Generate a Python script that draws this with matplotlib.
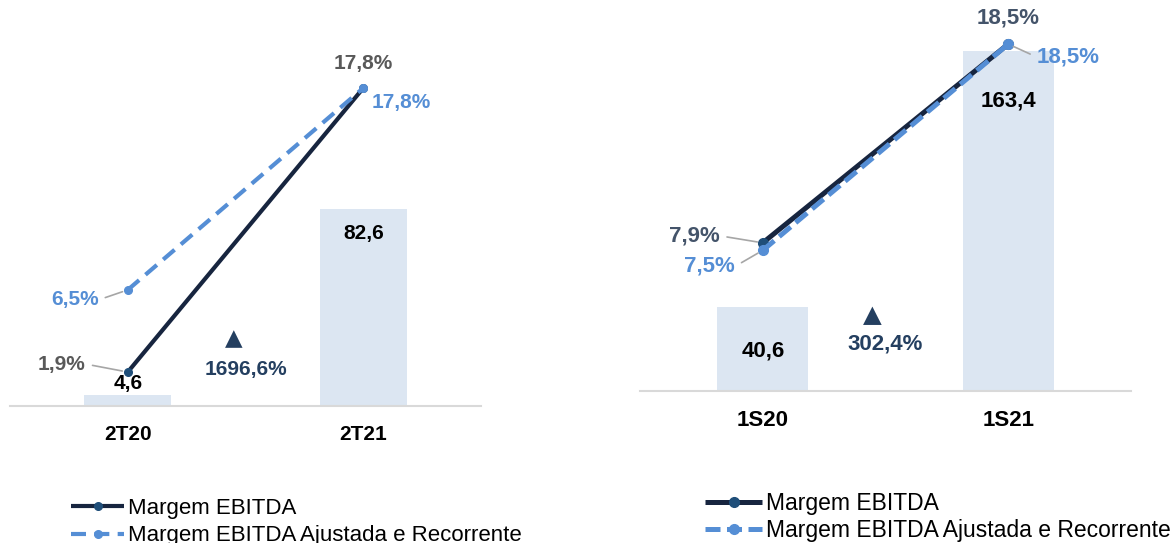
import matplotlib
matplotlib.use("Agg")
import matplotlib.pyplot as plt
import numpy as np

# data
periods_q = ["2T20", "2T21"]
ebitda_q = [4.6, 82.6]
margem_q = [1.9, 17.8]
margem_aj_q = [6.5, 17.8]
var_q = "1696,6%"

periods_s = ["1S20", "1S21"]
ebitda_s = [40.6, 163.4]
margem_s = [7.9, 18.5]
margem_aj_s = [7.5, 18.5]
var_s = "302,4%"

leg_labels = ["Margem EBITDA", "Margem EBITDA Ajustada e Recorrente"]

plt.rcParams["font.family"] = ["Liberation Sans", "DejaVu Sans"]

BAR = "#DCE6F2"
DARK = "#17253F"
MARK = "#1F4E79"
LIGHT = "#558ED5"
LEAD = "#A6A6A6"
TRI = "#243F60"


def fmt(v, pct=False):
    s = ("%.1f" % v).replace(".", ",")
    return s + "%" if pct else s


def panel(rect, cats, bars, m1, m2, var, ylim1, ylim2, fs, lw, ms, dashes,
          dark_lab, bar_off, lab_off, var_y, tri_y, legx, legy, hl, legfs, legsp):
    ax = fig.add_axes(rect)
    x = np.arange(len(cats))
    ax.bar(x, bars, width=0.37, color=BAR, zorder=1)
    ax.set_xlim(-0.5, 1.5)
    ax.set_ylim(0, ylim1)
    ax.set_xticks(x)
    ax.set_xticklabels(cats, fontsize=fs, fontweight="bold")
    ax.tick_params(axis="x", length=0, pad=13.5)
    ax.set_yticks([])
    for s in ["top", "left", "right"]:
        ax.spines[s].set_visible(False)
    ax.spines["bottom"].set_color("#D9D9D9")
    ax.spines["bottom"].set_linewidth(1.5)
    ax.patch.set_alpha(0)

    for i, v in enumerate(bars):
        ax.annotate(fmt(v), (x[i], v), xytext=(0, bar_off[i]), textcoords="offset pixels",
                    ha="center", va="center", fontsize=fs, fontweight="bold", color="black")

    ax.text(0.474, tri_y, "\u25B2", transform=ax.transAxes, ha="center", va="center",
            fontsize=fs * 1.1, color=TRI, family="DejaVu Sans")
    ax.text(0.5, var_y, var, transform=ax.transAxes, ha="center", va="center",
            fontsize=fs, fontweight="bold", color=TRI)

    ax2 = ax.twinx()
    ax2.set_ylim(0, ylim2)
    ax2.axis("off")
    l1, = ax2.plot(x, m1, color=DARK, lw=lw, marker="o", ms=ms, mfc=MARK, mec=MARK,
                   solid_capstyle="butt", zorder=3)
    l2, = ax2.plot(x, m2, color=LIGHT, lw=lw, marker="o", ms=ms, mfc=LIGHT, mec=LIGHT,
                   dashes=dashes, zorder=4)

    # value labels for the margins
    for series, col, offs in [(m1, dark_lab, lab_off[0]), (m2, LIGHT, lab_off[1])]:
        for i, v in enumerate(series):
            dx, dy, lead = offs[i]
            kw = {}
            if lead:
                kw["arrowprops"] = dict(arrowstyle="-", color=LEAD, lw=1.2,
                                        relpos=(1, 0.5) if dx < 0 else (0, 0.5),
                                        shrinkA=3, shrinkB=4)
            ax2.annotate(fmt(v, True), (x[i], v), xytext=(dx, dy), textcoords="offset pixels",
                         ha="center", va="center", fontsize=fs, fontweight="bold",
                         color=col, zorder=5, **kw)

    fig.legend([l1, l2], leg_labels, loc="center left", bbox_to_anchor=(legx, legy),
               frameon=False, borderpad=0, borderaxespad=0, handlelength=hl,
               handletextpad=0.15, labelspacing=legsp, prop=dict(size=legfs))
    return ax


fig = plt.figure(figsize=(11.76, 5.43), dpi=100)
W, H = 1176.0, 543.0

panel([10 / W, (H - 406) / H, 471 / W, 406 / H], periods_q, ebitda_q, margem_q, margem_aj_q,
      var_q, 170.2, 22.73, 15, 3, 5.5, (3.6, 2.0), "#595959",
      bar_off=[12, -25],
      lab_off=[[(-66, 8, True), (0, 25, False)], [(-53, -10, True), (38, -14, False)]],
      var_y=0.091, tri_y=0.167, legx=71 / W, legy=1 - 522 / H, hl=2.4, legfs=16, legsp=0.3)

panel([640 / W, (H - 391) / H, 491 / W, 391 / H], periods_s, ebitda_s, margem_s, margem_aj_s,
      var_s, 187.9, 20.85, 16, 3.6, 7, (3, 1.3), "#44546A",
      bar_off=[-44, -50],
      lab_off=[[(-68, 7, True), (0, 26, False)], [(-53, -16, True), (60, -13, True)]],
      var_y=0.12, tri_y=0.194, legx=705 / W, legy=1 - 517 / H, hl=2.5, legfs=16.5, legsp=0.18)

fig.savefig("out.png", dpi=100)
